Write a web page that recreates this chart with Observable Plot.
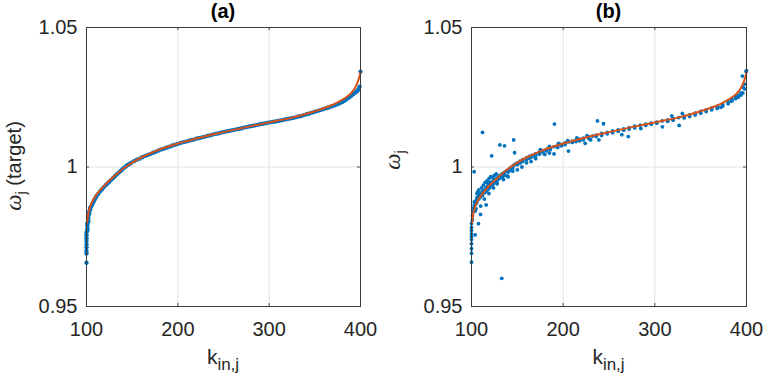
<!DOCTYPE html>
<html><head><meta charset="utf-8">
<script src="https://cdn.jsdelivr.net/npm/d3@7"></script>
<script src="https://cdn.jsdelivr.net/npm/@observablehq/plot@0.6"></script>
<style>
body{margin:0;background:#fff;}
#wrap{width:763px;height:382px;display:flex;}
svg{display:block;}
</style></head><body><div id="wrap"></div>
<script>
const xTicks = [100, 200, 300, 400];
const yTicks = [0.95, 1, 1.05];
const panelTitles = ["(a)", "(b)"];

// fitted curve (orange)
const fitK =     [100.5, 102,   104,   107,   110,   115,   120,   130,   140,   150,   160,   175,   200,   225,   250,   275,   300,   325,   350,   365,   375,   385,   390,   395,   398,   400];
const fitOmega = [0.9800,0.9833,0.9858,0.9880,0.9896,0.9917,0.9935,0.9966,0.9994,1.0016,1.0034,1.0056,1.0084,1.0106,1.0125,1.0143,1.0160,1.0177,1.0200,1.0217,1.0232,1.0252,1.0266,1.0290,1.0315,1.0340];

// panel (a): target omega
const dotsA = [
 [100,0.9657],[100,0.9690],[100,0.9700],[100,0.9712],[100,0.9722],[100,0.9735],[100,0.9745],[100,0.9755],[100,0.9765],
 [101,0.9772],[101,0.9780],[101,0.9790],[101,0.9798],[102,0.9806],[102,0.9815],[102,0.9824],[103,0.9832],[103,0.9840],
 [104,0.9848],[104,0.9853],[105,0.9858],[106,0.9865],[107,0.9871],[108,0.9878],[109,0.9884],[110,0.9890],[111,0.9896],
 [113,0.9904],[115,0.9913],[117,0.9920],[119,0.9928],[121,0.9935],[123,0.9941],[125,0.9947],[127,0.9954],[129,0.9960],
 [131,0.9967],[133,0.9973],[135,0.9979],[137,0.9985],[139,0.9991],[141,0.9997],[143,1.0002],[145,1.0007],[147,1.0011],
 [149,1.0015],[152,1.0021],[155,1.0026],[158,1.0030],[161,1.0035],[164,1.0039],[167,1.0043],[170,1.0047],[173,1.0051],
 [176,1.0055],[179,1.0059],[182,1.0063],[185,1.0066],[188,1.0070],[191,1.0073],[194,1.0077],[197,1.0080],[200,1.0083],
 [203,1.0086],[206,1.0089],[209,1.0091],[212,1.0094],[215,1.0097],[218,1.0099],[221,1.0102],[224,1.0104],[227,1.0107],
 [230,1.0109],[233,1.0112],[236,1.0114],[239,1.0117],[242,1.0119],[245,1.0121],[248,1.0124],[251,1.0126],[254,1.0128],
 [257,1.0130],[260,1.0132],[263,1.0134],[266,1.0136],[269,1.0138],[272,1.0141],[275,1.0143],[278,1.0145],[281,1.0147],
 [284,1.0149],[287,1.0151],[290,1.0153],[293,1.0155],[296,1.0157],[299,1.0159],[302,1.0161],[305,1.0162],[308,1.0164],
 [311,1.0166],[314,1.0168],[317,1.0170],[320,1.0172],[323,1.0174],[326,1.0176],[329,1.0178],[332,1.0181],[335,1.0183],
 [338,1.0186],[341,1.0189],[344,1.0192],[347,1.0195],[350,1.0198],[353,1.0201],[356,1.0204],[359,1.0207],[362,1.0210],
 [365,1.0213],[368,1.0217],[371,1.0220],[374,1.0224],[377,1.0228],[380,1.0233],[382,1.0237],[384,1.0241],[386,1.0246],
 [388,1.0251],[390,1.0256],[392,1.0261],[394,1.0266],[396,1.0271],[397,1.0275],[398,1.0280],[399,1.0288],[400,1.0342]
];

// panel (b): realised omega
const dotsB = [
 [100,0.9659],[100,0.9691],[100,0.9707],[100,0.9725],[100,0.9740],[100,0.9750],[100,0.9760],[100,0.9772],[100,0.9783],[100,0.9797],
 [101,0.9810],[101,0.9825],[102,0.9840],[102,0.9852],[103,0.9848],[103,0.9862],[103,0.9875],[104,0.9757],[104,0.9870],
 [105,0.9880],[105,0.9868],[106,0.9890],[106,0.9875],[107.6,0.9797],[108,0.9899],[108,0.9885],[109.8,0.9830],[110,0.9905],[110,0.9893],
 [112,0.9912],[112,0.9898],[112,1.0124],[114,0.9918],[114,0.9908],[116,0.9926],[116,0.9864],[116,0.9912],[118,0.9932],[118,0.9920],[118,0.9940],
 [120,0.9938],[120,0.9926],[120,0.9945],[122,0.9946],[122,1.0040],[122,0.9935],[124,0.9950],[124,0.9940],[126,0.9956],[126,0.9947],
 [128,0.9961],[128,0.9952],[130,0.9967],[130,0.9958],[130.9,1.0079],[132,0.9972],[132,0.9962],[133,0.9601],[134,0.9976],[134,0.9966],
 [136,0.9981],[136,1.0076],[136,0.9970],[138,0.9985],[138.9,0.9968],[140,0.9990],[140,0.9982],[142,0.9996],[142,0.9988],
 [145,1.0003],[145,0.9996],[146,1.0097],[147,1.0051],[147,1.0009],[150,1.0015],[150,1.0008],[153,1.0021],[153,1.0014],
 [156,1.0026],[156,1.0020],[160,1.0033],[160,1.0027],[163,1.0038],[163,1.0031],[166,1.0042],[166,1.0036],[170,1.0048],[170,1.0040],
 [174,1.0053],[174,1.0046],[178,1.0058],[178,1.0052],[182,1.0064],[182,1.0058],[186,1.0068],[186,1.0062],
 [190,1.0073],[190,1.0047],[190.5,1.0154],[194,1.0077],[194,1.0070],[198,1.0081],[198,1.0076],[202,1.0086],[202,1.0080],
 [206,1.0090],[205.8,1.0057],[210,1.0093],[210,1.0088],[214,1.0096],[214,1.0091],[218,1.0100],[218,1.0094],[222,1.0103],[222,1.0097],
 [224,1.0085],[228,1.0108],[228,1.0102],[232,1.0111],[230,1.0097],[236,1.0114],[236,1.0109],[237.4,1.0165],[239,1.0097],
 [242,1.0120],[242,1.0113],[244,1.0155],[248,1.0124],[248,1.0119],[254,1.0129],[254,1.0123],[260,1.0133],[260,1.0128],
 [264,1.0116],[266,1.0137],[266,1.0132],[271,1.0109],[272,1.0141],[272,1.0136],[278,1.0146],[278,1.0140],[284.7,1.0138],[284,1.0150],
 [290,1.0154],[290,1.0149],[296,1.0157],[296,1.0153],[302,1.0161],[302,1.0157],[308,1.0165],[308.3,1.0144],[314,1.0169],[314,1.0164],
 [318.5,1.0183],[320,1.0173],[320,1.0168],[326,1.0177],[326.5,1.0149],[330,1.0192],[332,1.0181],[332,1.0176],[338,1.0187],[338,1.0181],
 [344,1.0193],[344,1.0186],[350,1.0199],[350,1.0193],[356,1.0205],[356,1.0199],[362,1.0211],[362,1.0205],[368,1.0217],[368,1.0210],
 [372,1.0214],[374,1.0224],[374,1.0218],[380,1.0234],[380,1.0227],[384,1.0242],[384,1.0236],[388,1.0251],[388,1.0245],
 [391,1.0257],[391,1.0250],[394,1.0266],[394,1.0258],[395.5,1.0326],[396.3,1.0285],[396,1.0265],[397.6,1.0297],[398,1.0280],[399.5,1.0342],[400,1.0345],
 [102.9,0.9983],[104,0.9842],[105,0.9850],[106,0.9905],[107,0.9912],[108,0.9918],[111,0.9925],[113,0.9935],[115,0.9945],[117,0.9950],
 [119,0.9958],[121,0.9965],[123,0.9962],[125,0.9970],[127,0.9975],[110,0.9860],[114,0.9885],[119,0.9905],[124,0.9925],[128,0.9940],
 [135,0.9955],[140,0.9965],[145,0.9985],[150,0.9990],[155,1.0000],[160,1.0015],[165,1.0020],[170,1.0030],[180,1.0045],[185,1.0050],
 [175,1.0062],[185,1.0074],[195,1.0085],[205,1.0094],[215,1.0104],[226,1.0112]
];

const fit = fitK.map((k, i) => ({k, w: fitOmega[i]}));

function panel({dots, title, width, ml, mr, ylab, ylabX, ylabY, r}) {
  const H = 382, mt = 27, mb = 76;
  const plotH = H - mt - mb, plotW = width - ml - mr;
  const pts = dots.map(([k, w]) => ({k, w}));
  const tickLen = 3;
  const svg = Plot.plot({
    width, height: H, marginLeft: ml, marginRight: mr, marginTop: mt, marginBottom: mb,
    style: {fontFamily: "'Liberation Sans', Arial, Helvetica, sans-serif", fontSize: "20px", color: "#262626", background: "#fff"},
    x: {domain: [100, 400]},
    y: {domain: [0.95, 1.05]},
    marks: [
      Plot.gridX(xTicks, {stroke: "#e3e3e3", strokeOpacity: 1}),
      Plot.gridY(yTicks, {stroke: "#e3e3e3", strokeOpacity: 1}),
      Plot.dot(pts, {x: "k", y: "w", r, fill: "#0072BD", stroke: null}),
      Plot.line(fit, {x: "k", y: "w", stroke: "#D95319", strokeWidth: 2, curve: "monotone-x"}),
      Plot.tickX(xTicks, {x: d => d, insetTop: plotH - tickLen, stroke: "#262626", strokeWidth: 0.8}),
      Plot.tickX(xTicks, {x: d => d, insetBottom: plotH - tickLen, stroke: "#262626", strokeWidth: 0.8}),
      Plot.tickY(yTicks, {y: d => d, insetRight: plotW - tickLen, stroke: "#262626", strokeWidth: 0.8}),
      Plot.tickY(yTicks, {y: d => d, insetLeft: plotW - tickLen, stroke: "#262626", strokeWidth: 0.8}),
      Plot.axisX(xTicks, {tickSize: 0, tickPadding: 15, tickFormat: d => String(d), label: null, fill: "#262626"}),
      Plot.axisY(yTicks, {tickSize: 0, tickPadding: 9, tickFormat: d => String(d), label: null, fill: "#262626"}),
      Plot.frame({stroke: "#3a3a3a", strokeWidth: 1})
    ]
  });
  const s = d3.select(svg);
  const cx = ml + plotW / 2, cy = mt + plotH / 2;
  s.append("text").attr("x", cx).attr("y", 18).attr("text-anchor", "middle")
    .attr("font-weight", "bold").attr("font-size", 20).attr("fill", "#000").text(title);
  const xl = s.append("text").attr("x", cx).attr("y", 364).attr("text-anchor", "middle")
    .attr("font-size", 21).attr("fill", "#262626");
  xl.append("tspan").text("k");
  xl.append("tspan").attr("font-size", 17).attr("dy", 6).text("in,j");
  const yl = s.append("text").attr("transform", `translate(${ylabX},${ylabY}) rotate(-90)`)
    .attr("text-anchor", "middle").attr("font-size", 20).attr("fill", "#262626");
  yl.append("tspan").attr("font-family", "'Liberation Serif', 'DejaVu Serif', serif").attr("font-style", "italic").attr("font-size", 23).text("ω");
  yl.append("tspan").attr("font-size", 15).attr("dy", 5).text("j");
  if (ylab) yl.append("tspan").attr("dy", -5).text(" " + ylab);
  return svg;
}

const wrap = document.getElementById("wrap");
wrap.appendChild(panel({dots: dotsA, title: panelTitles[0], width: 381, ml: 86, mr: 21, ylab: "(target)", ylabX: 21, ylabY: 166, r: 2.2}));
wrap.appendChild(panel({dots: dotsB, title: panelTitles[1], width: 382, ml: 90, mr: 17, ylab: null, ylabX: 19, ylabY: 160, r: 1.9}));
</script></body></html>
